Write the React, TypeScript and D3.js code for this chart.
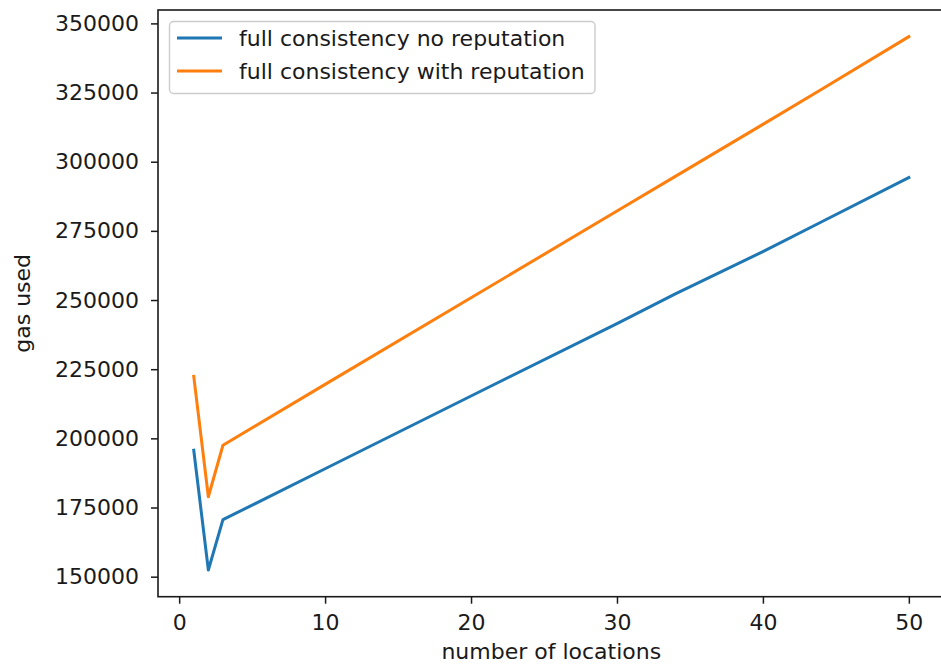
import { useRef, useEffect } from "react";
import * as d3 from "d3";

// values
const locations = [1, 2, 3, 10, 20, 30, 34, 40, 44, 50];
const noReputation = [195700, 152400, 170600, 189000, 215300, 241500, 252200, 267500, 278200, 294300];
const withReputation = [222400, 178900, 197500, 219500, 250800, 282200, 294700, 313500, 326100, 345200];
const xTicks = [0, 10, 20, 30, 40, 50];
const yTicks = [150000, 175000, 200000, 225000, 250000, 275000, 300000, 325000, 350000];
const seriesNames = ["full consistency no reputation", "full consistency with reputation"];
const colors = ["#1f77b4", "#ff7f0e"];

export default function App() {
  const svgRef = useRef<SVGSVGElement>(null);

  useEffect(() => {
    document.body.style.margin = "0";
    if (!svgRef.current) return;
    const svg = d3.select(svgRef.current);
    svg.selectAll("*").remove();

    const width = 941;
    const height = 668;
    const left = 158, top = 10, right = 944.6, bottom = 596.7;
    const font = "DejaVu Sans, sans-serif";
    const ink = "#1a1a1a";
    const fs = "22px";

    const xPad = (50 - 1) * 0.05;
    const x = d3.scaleLinear().domain([1 - xPad, 50 + xPad]).range([left, right]);
    const allY = noReputation.concat(withReputation);
    const yMin = d3.min(allY)!, yMax = d3.max(allY)!;
    const yPad = (yMax - yMin) * 0.05;
    const y = d3.scaleLinear().domain([yMin - yPad, yMax + yPad]).range([bottom, top]);

    svg.attr("viewBox", `0 0 ${width} ${height}`);
    svg.append("rect").attr("width", width).attr("height", height).attr("fill", "#fff");

    // lines
    const series = [noReputation, withReputation];
    const line = d3
      .line<number>()
      .x((_, i) => x(locations[i]))
      .y((d) => y(d));
    series.forEach((s, k) => {
      svg
        .append("path")
        .datum(s)
        .attr("d", line)
        .attr("fill", "none")
        .attr("stroke", colors[k])
        .attr("stroke-width", 3)
        .attr("stroke-linejoin", "round")
        .attr("stroke-linecap", "square");
    });

    // axes
    const xAxis = svg
      .append("g")
      .attr("transform", `translate(0,${bottom})`)
      .call(d3.axisBottom(x).tickValues(xTicks).tickSize(7).tickPadding(11).tickSizeOuter(0));
    const yAxis = svg
      .append("g")
      .attr("transform", `translate(${left},0)`)
      .call(d3.axisLeft(y).tickValues(yTicks).tickSize(7).tickPadding(12).tickFormat(d3.format("d")).tickSizeOuter(0));
    [xAxis, yAxis].forEach((a) => {
      a.select(".domain").remove();
      a.selectAll(".tick line").attr("stroke", ink).attr("stroke-width", 1.5);
      a.selectAll(".tick text")
        .attr("fill", ink)
        .attr("font-family", font)
        .attr("font-size", fs);
    });

    // spines
    svg
      .append("rect")
      .attr("x", left)
      .attr("y", top)
      .attr("width", right - left)
      .attr("height", bottom - top)
      .attr("fill", "none")
      .attr("stroke", ink)
      .attr("stroke-width", 1.6);

    // axis labels
    svg
      .append("text")
      .attr("x", (left + right) / 2)
      .attr("y", 658.5)
      .attr("text-anchor", "middle")
      .attr("fill", ink)
      .attr("font-family", font)
      .attr("font-size", fs)
      .text("number of locations");

    svg
      .append("text")
      .attr("transform", `translate(30,${(top + bottom) / 2}) rotate(-90)`)
      .attr("text-anchor", "middle")
      .attr("fill", ink)
      .attr("font-family", font)
      .attr("font-size", fs)
      .text("gas used");

    // legend
    const lg = svg.append("g");
    lg.append("rect")
      .attr("x", 169.5)
      .attr("y", 21.5)
      .attr("width", 425.5)
      .attr("height", 72)
      .attr("rx", 4)
      .attr("fill", "#fff")
      .attr("fill-opacity", 0.8)
      .attr("stroke", "#cccccc")
      .attr("stroke-width", 1.4);
    seriesNames.forEach((name, k) => {
      const cy = 38 + k * 33;
      lg.append("line")
        .attr("x1", 177)
        .attr("x2", 222)
        .attr("y1", cy)
        .attr("y2", cy)
        .attr("stroke", colors[k])
        .attr("stroke-width", 3);
      lg.append("text")
        .attr("x", 239)
        .attr("y", cy + 8)
        .attr("fill", ink)
        .attr("font-family", font)
        .attr("font-size", fs)
        .text(name);
    });
  }, []);

  return <svg ref={svgRef} width={941} height={668} style={{ display: "block" }} />;
}
